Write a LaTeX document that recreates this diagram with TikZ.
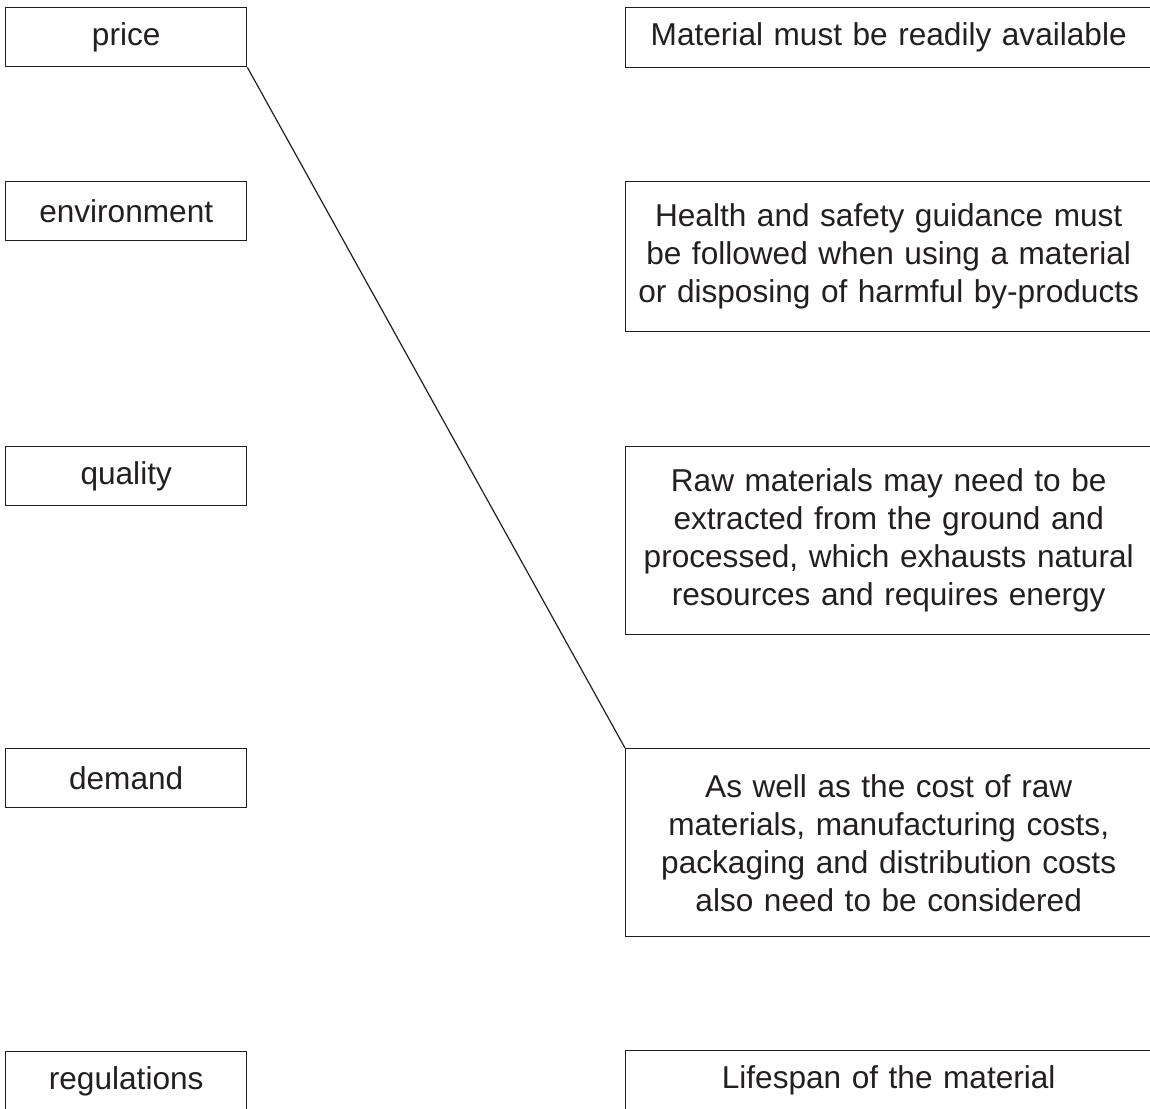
\documentclass[tikz,border=0pt]{standalone}
\usepackage{fontspec}
\setmainfont{Liberation Sans}
\usetikzlibrary{positioning}
\definecolor{inkgray}{HTML}{231F20}

\begin{document}
\begin{tikzpicture}[
    x=0.5pt, y=-0.5pt,
    % Box styles
    factor/.style={rectangle, draw=inkgray, line width=0.7pt, anchor=north west, minimum width=120.5pt, minimum height=29.5pt, inner sep=0pt, text=inkgray, font=\fontsize{15.8}{19}\selectfont},
    statement/.style={rectangle, draw=inkgray, line width=0.7pt, anchor=north west, minimum width=263pt, inner sep=0pt, text width=255pt, align=center, text=inkgray, font=\fontsize{15.8}{19}\selectfont},
    % Line style
    connection/.style={draw=inkgray, line width=0.6pt}
]

% Canvas
\useasboundingbox (0,0) rectangle (1150,1108);
\clip (0,0) rectangle (1150,1108);

% Left column - factors
\node[factor] (price) at (5, 7) {price};
\node[factor] (environment) at (5, 181) {environment};
\node[factor] (quality) at (5, 446) {quality};
\node[factor] (demand) at (5, 748) {demand};
\node[factor] (regulations) at (5, 1051) {regulations};

% Right column - statements
\node[statement, minimum height=30pt] (avail) at (625, 7) {Material must be readily available};
\node[statement, minimum height=75pt] (health) at (625, 181) {Health and safety guidance must\\be followed when using a material\\or disposing of harmful by-products};
\node[statement, minimum height=94pt] (raw) at (625, 446) {Raw materials may need to be\\extracted from the ground and\\processed, which exhausts natural\\resources and requires energy};
\node[statement, minimum height=94pt] (cost) at (625, 748) {As well as the cost of raw\\materials, manufacturing costs,\\packaging and distribution costs\\also need to be considered};
\node[statement, minimum height=30pt] (lifespan) at (625, 1050) {Lifespan of the material};

% Matching line
\draw[connection] (price.south east) -- (cost.north west);

\end{tikzpicture}
\end{document}
